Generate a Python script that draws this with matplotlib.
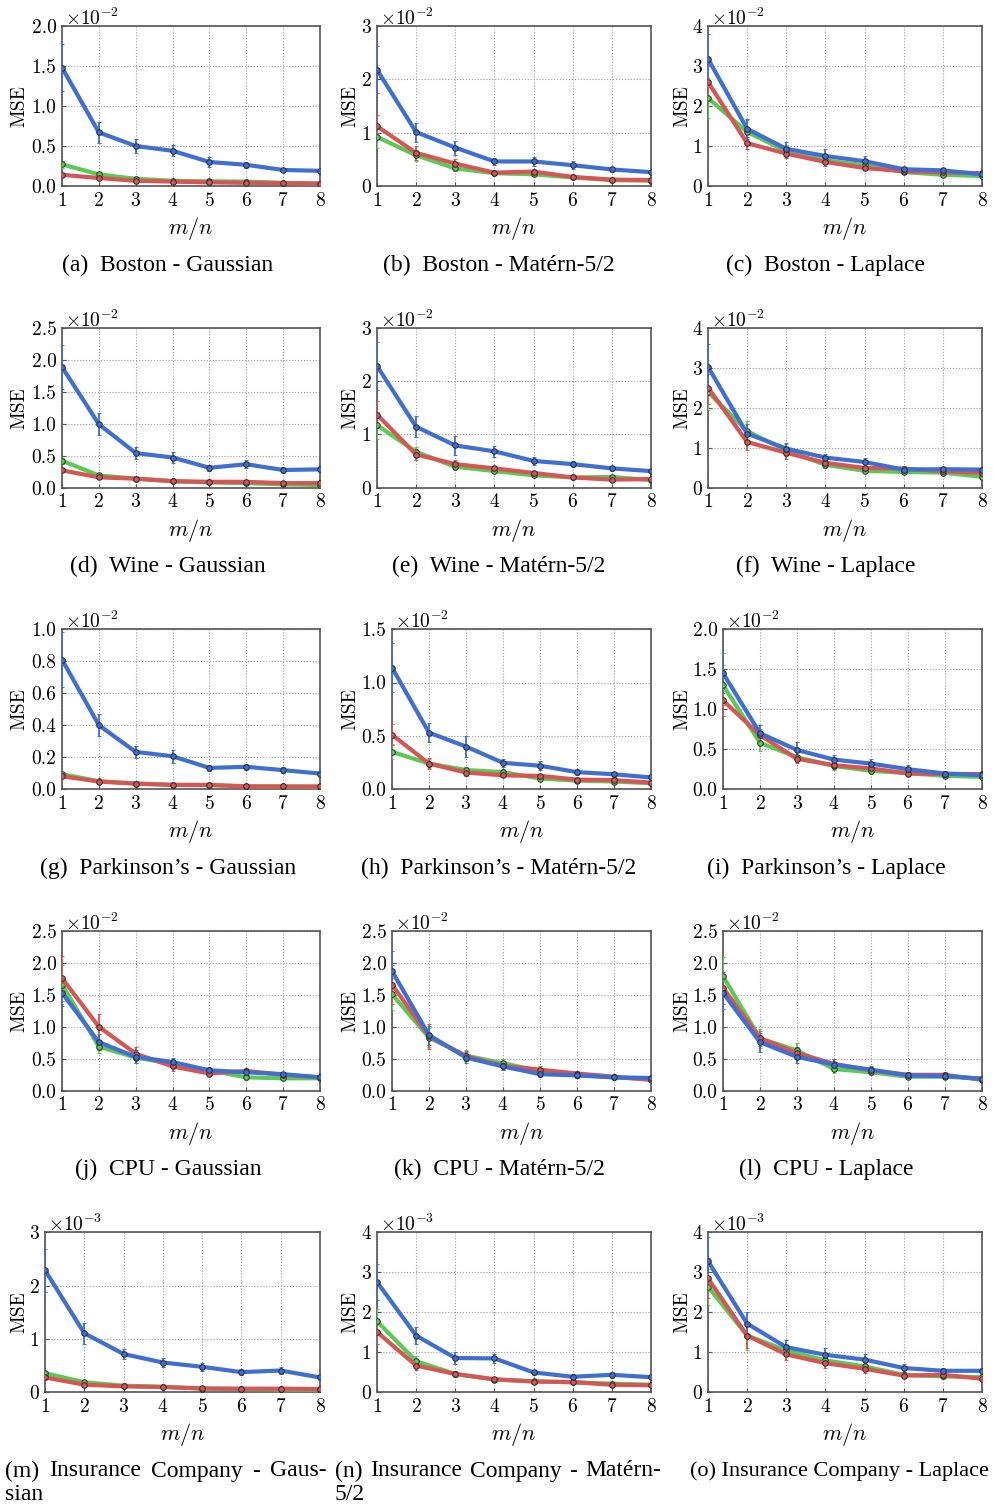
import numpy as np
import matplotlib
matplotlib.use('Agg')
import matplotlib.pyplot as plt
from matplotlib.ticker import MultipleLocator, FuncFormatter

plt.rcParams['font.family'] = ['cmr10', 'DejaVu Serif']
plt.rcParams['mathtext.fontset'] = 'cm'
plt.rcParams['axes.formatter.use_mathtext'] = True

# m/n ratio
ratio = [1, 2, 3, 4, 5, 6, 7, 8]

# MSE values per panel, in units of 10^exp  (blue, green, red) + error bars
boston_gauss_blue = [1.48, 0.67, 0.50, 0.44, 0.30, 0.265, 0.20, 0.19]
boston_gauss_blue_err = [0.29, 0.13, 0.09, 0.07, 0.06, 0.04, 0.03, 0.02]
boston_gauss_green = [0.27, 0.145, 0.09, 0.065, 0.058, 0.055, 0.04, 0.03]
boston_gauss_green_err = [0.04, 0.02, 0.01, 0.01, 0.01, 0.01, 0.005, 0.005]
boston_gauss_red = [0.14, 0.10, 0.065, 0.055, 0.045, 0.04, 0.035, 0.03]
boston_gauss_red_err = [0.02, 0.015, 0.01, 0.01, 0.005, 0.005, 0.005, 0.005]

boston_matern_blue = [2.18, 1.01, 0.72, 0.46, 0.46, 0.39, 0.31, 0.26]
boston_matern_blue_err = [0.44, 0.18, 0.13, 0.07, 0.08, 0.07, 0.05, 0.04]
boston_matern_green = [0.92, 0.575, 0.33, 0.24, 0.22, 0.16, 0.11, 0.10]
boston_matern_green_err = [0.20, 0.10, 0.05, 0.03, 0.03, 0.02, 0.02, 0.02]
boston_matern_red = [1.12, 0.62, 0.42, 0.25, 0.27, 0.17, 0.12, 0.11]
boston_matern_red_err = [0.22, 0.13, 0.09, 0.04, 0.04, 0.03, 0.02, 0.02]

boston_laplace_blue = [3.18, 1.43, 0.93, 0.75, 0.62, 0.42, 0.39, 0.29]
boston_laplace_blue_err = [0.62, 0.25, 0.17, 0.17, 0.13, 0.05, 0.05, 0.04]
boston_laplace_green = [2.20, 1.35, 0.87, 0.64, 0.52, 0.35, 0.28, 0.25]
boston_laplace_green_err = [0.50, 0.30, 0.15, 0.10, 0.08, 0.05, 0.04, 0.03]
boston_laplace_red = [2.60, 1.07, 0.81, 0.60, 0.45, 0.37, 0.34, 0.32]
boston_laplace_red_err = [0.40, 0.15, 0.12, 0.10, 0.06, 0.05, 0.04, 0.04]

wine_gauss_blue = [1.885, 0.99, 0.54, 0.47, 0.31, 0.365, 0.275, 0.285]
wine_gauss_blue_err = [0.34, 0.17, 0.09, 0.08, 0.05, 0.06, 0.04, 0.04]
wine_gauss_green = [0.42, 0.19, 0.14, 0.10, 0.08, 0.07, 0.05, 0.04]
wine_gauss_green_err = [0.05, 0.02, 0.02, 0.01, 0.01, 0.01, 0.01, 0.01]
wine_gauss_red = [0.27, 0.16, 0.14, 0.10, 0.09, 0.09, 0.07, 0.07]
wine_gauss_red_err = [0.03, 0.02, 0.02, 0.01, 0.01, 0.01, 0.01, 0.01]

wine_matern_blue = [2.28, 1.14, 0.79, 0.68, 0.50, 0.44, 0.36, 0.31]
wine_matern_blue_err = [0.45, 0.20, 0.17, 0.10, 0.07, 0.06, 0.05, 0.04]
wine_matern_green = [1.17, 0.67, 0.39, 0.31, 0.23, 0.19, 0.20, 0.14]
wine_matern_green_err = [0.25, 0.10, 0.06, 0.04, 0.03, 0.03, 0.04, 0.03]
wine_matern_red = [1.37, 0.62, 0.44, 0.36, 0.275, 0.19, 0.15, 0.16]
wine_matern_red_err = [0.25, 0.10, 0.07, 0.05, 0.04, 0.03, 0.03, 0.03]

wine_laplace_blue = [3.02, 1.35, 0.975, 0.75, 0.64, 0.45, 0.46, 0.45]
wine_laplace_blue_err = [0.58, 0.25, 0.15, 0.10, 0.10, 0.06, 0.05, 0.05]
wine_laplace_green = [2.39, 1.41, 0.93, 0.57, 0.42, 0.39, 0.375, 0.27]
wine_laplace_green_err = [0.45, 0.25, 0.15, 0.08, 0.06, 0.05, 0.05, 0.04]
wine_laplace_red = [2.50, 1.14, 0.87, 0.62, 0.49, 0.475, 0.41, 0.37]
wine_laplace_red_err = [0.40, 0.20, 0.15, 0.08, 0.06, 0.06, 0.05, 0.05]

park_gauss_blue = [0.81, 0.40, 0.233, 0.206, 0.133, 0.14, 0.119, 0.098]
park_gauss_blue_err = [0.17, 0.07, 0.04, 0.04, 0.02, 0.02, 0.02, 0.015]
park_gauss_green = [0.094, 0.05, 0.035, 0.027, 0.025, 0.019, 0.017, 0.015]
park_gauss_green_err = [0.01, 0.005, 0.004, 0.003, 0.003, 0.002, 0.002, 0.002]
park_gauss_red = [0.081, 0.048, 0.035, 0.027, 0.027, 0.017, 0.017, 0.017]
park_gauss_red_err = [0.01, 0.005, 0.004, 0.003, 0.003, 0.002, 0.002, 0.002]

park_matern_blue = [1.14, 0.53, 0.40, 0.247, 0.22, 0.16, 0.14, 0.11]
park_matern_blue_err = [0.23, 0.09, 0.10, 0.04, 0.04, 0.03, 0.025, 0.02]
park_matern_green = [0.35, 0.24, 0.18, 0.16, 0.10, 0.08, 0.072, 0.056]
park_matern_green_err = [0.07, 0.04, 0.03, 0.03, 0.02, 0.015, 0.01, 0.01]
park_matern_red = [0.51, 0.24, 0.156, 0.13, 0.125, 0.09, 0.085, 0.062]
park_matern_red_err = [0.10, 0.05, 0.03, 0.02, 0.02, 0.015, 0.01, 0.01]

park_laplace_blue = [1.45, 0.70, 0.49, 0.37, 0.32, 0.25, 0.196, 0.175]
park_laplace_blue_err = [0.25, 0.10, 0.10, 0.06, 0.06, 0.05, 0.03, 0.03]
park_laplace_green = [1.30, 0.58, 0.40, 0.29, 0.23, 0.20, 0.167, 0.154]
park_laplace_green_err = [0.25, 0.10, 0.06, 0.05, 0.04, 0.03, 0.03, 0.02]
park_laplace_red = [1.11, 0.675, 0.38, 0.30, 0.26, 0.196, 0.19, 0.19]
park_laplace_red_err = [0.20, 0.08, 0.05, 0.05, 0.04, 0.03, 0.03, 0.03]

cpu_gauss_blue = [1.53, 0.76, 0.53, 0.45, 0.32, 0.29, 0.26, 0.21]
cpu_gauss_blue_err = [0.20, 0.13, 0.10, 0.06, 0.04, 0.04, 0.04, 0.03]
cpu_gauss_green = [1.66, 0.69, 0.52, 0.42, 0.32, 0.21, 0.195, 0.195]
cpu_gauss_green_err = [0.30, 0.10, 0.08, 0.06, 0.04, 0.04, 0.03, 0.03]
cpu_gauss_red = [1.76, 1.00, 0.58, 0.38, 0.27, 0.31, 0.25, 0.21]
cpu_gauss_red_err = [0.35, 0.20, 0.10, 0.07, 0.04, 0.05, 0.04, 0.03]

cpu_matern_blue = [1.87, 0.87, 0.52, 0.38, 0.26, 0.24, 0.21, 0.20]
cpu_matern_blue_err = [0.32, 0.15, 0.08, 0.06, 0.04, 0.04, 0.03, 0.03]
cpu_matern_green = [1.51, 0.83, 0.55, 0.43, 0.31, 0.25, 0.21, 0.18]
cpu_matern_green_err = [0.25, 0.15, 0.08, 0.06, 0.04, 0.04, 0.03, 0.03]
cpu_matern_red = [1.66, 0.85, 0.54, 0.39, 0.33, 0.27, 0.22, 0.17]
cpu_matern_red_err = [0.30, 0.20, 0.08, 0.07, 0.05, 0.04, 0.03, 0.03]

cpu_laplace_blue = [1.53, 0.76, 0.53, 0.41, 0.33, 0.24, 0.23, 0.19]
cpu_laplace_blue_err = [0.25, 0.15, 0.10, 0.08, 0.05, 0.04, 0.03, 0.03]
cpu_laplace_green = [1.79, 0.82, 0.63, 0.34, 0.29, 0.22, 0.22, 0.19]
cpu_laplace_green_err = [0.30, 0.15, 0.12, 0.06, 0.04, 0.03, 0.03, 0.03]
cpu_laplace_red = [1.61, 0.82, 0.59, 0.42, 0.32, 0.25, 0.25, 0.17]
cpu_laplace_red_err = [0.25, 0.12, 0.10, 0.07, 0.05, 0.04, 0.04, 0.03]

ins_gauss_blue = [2.29, 1.11, 0.72, 0.56, 0.48, 0.38, 0.41, 0.28]
ins_gauss_blue_err = [0.40, 0.20, 0.10, 0.08, 0.08, 0.06, 0.06, 0.04]
ins_gauss_green = [0.36, 0.19, 0.125, 0.107, 0.07, 0.063, 0.057, 0.05]
ins_gauss_green_err = [0.05, 0.03, 0.02, 0.02, 0.01, 0.01, 0.01, 0.01]
ins_gauss_red = [0.28, 0.145, 0.113, 0.10, 0.075, 0.07, 0.07, 0.063]
ins_gauss_red_err = [0.05, 0.03, 0.02, 0.02, 0.01, 0.01, 0.01, 0.01]

ins_matern_blue = [2.76, 1.42, 0.86, 0.85, 0.50, 0.39, 0.44, 0.38]
ins_matern_blue_err = [0.45, 0.22, 0.15, 0.12, 0.07, 0.06, 0.07, 0.05]
ins_matern_green = [1.78, 0.78, 0.46, 0.32, 0.28, 0.25, 0.22, 0.19]
ins_matern_green_err = [0.30, 0.12, 0.06, 0.05, 0.04, 0.04, 0.03, 0.03]
ins_matern_red = [1.51, 0.67, 0.46, 0.33, 0.27, 0.26, 0.19, 0.18]
ins_matern_red_err = [0.30, 0.10, 0.07, 0.05, 0.04, 0.04, 0.03, 0.03]

ins_laplace_blue = [3.28, 1.72, 1.13, 0.94, 0.82, 0.61, 0.54, 0.54]
ins_laplace_blue_err = [0.60, 0.28, 0.18, 0.17, 0.15, 0.10, 0.08, 0.08]
ins_laplace_green = [2.64, 1.42, 1.05, 0.80, 0.65, 0.44, 0.40, 0.38]
ins_laplace_green_err = [0.45, 0.35, 0.15, 0.12, 0.10, 0.07, 0.06, 0.06]
ins_laplace_red = [2.85, 1.42, 0.95, 0.73, 0.59, 0.42, 0.44, 0.34]
ins_laplace_red_err = [0.50, 0.30, 0.15, 0.13, 0.10, 0.07, 0.08, 0.06]

captions = [
    '(a)  Boston - Gaussian', '(b)  Boston - Matérn-5/2', '(c)  Boston - Laplace',
    '(d)  Wine - Gaussian', '(e)  Wine - Matérn-5/2', '(f)  Wine - Laplace',
    "(g)  Parkinson’s - Gaussian", "(h)  Parkinson’s - Matérn-5/2", "(i)  Parkinson’s - Laplace",
    '(j)  CPU - Gaussian', '(k)  CPU - Matérn-5/2', '(l)  CPU - Laplace',
]

panels = [
    (boston_gauss_blue, boston_gauss_blue_err, boston_gauss_green, boston_gauss_green_err, boston_gauss_red, boston_gauss_red_err),
    (boston_matern_blue, boston_matern_blue_err, boston_matern_green, boston_matern_green_err, boston_matern_red, boston_matern_red_err),
    (boston_laplace_blue, boston_laplace_blue_err, boston_laplace_green, boston_laplace_green_err, boston_laplace_red, boston_laplace_red_err),
    (wine_gauss_blue, wine_gauss_blue_err, wine_gauss_green, wine_gauss_green_err, wine_gauss_red, wine_gauss_red_err),
    (wine_matern_blue, wine_matern_blue_err, wine_matern_green, wine_matern_green_err, wine_matern_red, wine_matern_red_err),
    (wine_laplace_blue, wine_laplace_blue_err, wine_laplace_green, wine_laplace_green_err, wine_laplace_red, wine_laplace_red_err),
    (park_gauss_blue, park_gauss_blue_err, park_gauss_green, park_gauss_green_err, park_gauss_red, park_gauss_red_err),
    (park_matern_blue, park_matern_blue_err, park_matern_green, park_matern_green_err, park_matern_red, park_matern_red_err),
    (park_laplace_blue, park_laplace_blue_err, park_laplace_green, park_laplace_green_err, park_laplace_red, park_laplace_red_err),
    (cpu_gauss_blue, cpu_gauss_blue_err, cpu_gauss_green, cpu_gauss_green_err, cpu_gauss_red, cpu_gauss_red_err),
    (cpu_matern_blue, cpu_matern_blue_err, cpu_matern_green, cpu_matern_green_err, cpu_matern_red, cpu_matern_red_err),
    (cpu_laplace_blue, cpu_laplace_blue_err, cpu_laplace_green, cpu_laplace_green_err, cpu_laplace_red, cpu_laplace_red_err),
    (ins_gauss_blue, ins_gauss_blue_err, ins_gauss_green, ins_gauss_green_err, ins_gauss_red, ins_gauss_red_err),
    (ins_matern_blue, ins_matern_blue_err, ins_matern_green, ins_matern_green_err, ins_matern_red, ins_matern_red_err),
    (ins_laplace_blue, ins_laplace_blue_err, ins_laplace_green, ins_laplace_green_err, ins_laplace_red, ins_laplace_red_err),
]

# y axis: (max, tick step, exponent)
yscales = [
    (2.0, 0.5, -2), (3, 1, -2), (4, 1, -2),
    (2.5, 0.5, -2), (3, 1, -2), (4, 1, -2),
    (1.0, 0.2, -2), (1.5, 0.5, -2), (2.0, 0.5, -2),
    (2.5, 0.5, -2), (2.5, 0.5, -2), (2.5, 0.5, -2),
    (3, 1, -3), (4, 1, -3), (4, 1, -3),
]

BLUE = '#3f6fd3'
GREEN = '#5cc856'
RED = '#d65656'
CAPFONT = ['Liberation Serif']
CAPSIZE = 17

W, H = 993, 1509
fig = plt.figure(figsize=(W / 100, H / 100), dpi=100)

right_px = [320, 651, 982]
mse_x_px = [28, 359, 691]
cap_x_px = [168, 499, 826]

for i, (vals, ysc) in enumerate(zip(panels, yscales)):
    row, col = divmod(i, 3)
    ymax, step, ex = ysc
    top = 26 + 301.6 * row
    bot = top + 160
    wide = step < 1
    lx = [[45, 62], [377, 392], [708, 723]][col][wide]
    rx = right_px[col]
    ax = fig.add_axes([lx / W, 1 - bot / H, (rx - lx) / W, (bot - top) / H])

    b, be, g, ge, r, re_ = vals
    sc = 10.0 ** ex
    for y, e, c in [(g, ge, GREEN), (r, re_, RED), (b, be, BLUE)]:
        ax.errorbar(ratio, np.array(y) * sc, yerr=np.array(e) * sc, color=c, lw=3,
                    elinewidth=1.3, capsize=1.5, capthick=1, marker='o', ms=4,
                    mfc=c, mec='#2a2a2a', mew=0.7, zorder=3)

    ax.set_xlim(1, 8)
    ax.set_ylim(0, ymax * sc)
    ax.xaxis.set_major_locator(MultipleLocator(1))
    ax.yaxis.set_major_locator(MultipleLocator(step * sc))
    dec = 1 if wide else 0
    ax.yaxis.set_major_formatter(FuncFormatter(
        lambda v, p, sc=sc, dec=dec: f'{v / sc:.{dec}f}'))
    ax.text(3 / (rx - lx), 1 + 1 / 160, r'$\times10^{%d}$' % ex, transform=ax.transAxes,
            ha='left', va='baseline', fontsize=14)
    ax.grid(True, ls=':', color='#9a9a9a', lw=0.8)
    for s in ax.spines.values():
        s.set_color('#555555')
        s.set_linewidth(1.2)
    ax.tick_params(direction='in', length=3, color='#555555', labelsize=14, pad=4)
    ax.set_xlabel('$m/n$', fontsize=16)
    ax.set_ylabel('MSE', fontsize=14)
    ax.xaxis.set_label_coords(0.5, -29 / 160)
    ax.yaxis.set_label_coords((mse_x_px[col] - lx) / (rx - lx), 0.5)

    if i < len(captions):
        cy = 265 + 301.6 * row
        fig.text(cap_x_px[col] / W, 1 - cy / H, captions[i], ha='center', va='center',
                 fontsize=CAPSIZE, family=CAPFONT)

# justified captions in the last row
fig.canvas.draw()
rend = fig.canvas.get_renderer()


def justified(words, x0, x1, y, second):
    items = [fig.text(0, 1 - y / H, w, ha='left', va='center', fontsize=CAPSIZE,
                      family=CAPFONT) for w in words]
    widths = [t.get_window_extent(rend).width for t in items]
    gap = (x1 - x0 - sum(widths)) / (len(words) - 1)
    x = x0
    for t, w in zip(items, widths):
        t.set_x(x / W)
        x += w + gap
    fig.text(x0 / W, 1 - (y + 23) / H, second, ha='left', va='center',
             fontsize=CAPSIZE, family=CAPFONT)


justified(['(m)', 'Insurance', 'Company', '-', 'Gaus-'], 5, 327, 1471, 'sian')
justified(['(n)', 'Insurance', 'Company', '-', 'Matérn-'], 335, 661, 1471, '5/2')
fig.text(989 / W, 1 - 1471 / H, '(o) Insurance Company - Laplace', ha='right', va='center',
         fontsize=16, family=CAPFONT)

fig.savefig('out.png', dpi=100)
